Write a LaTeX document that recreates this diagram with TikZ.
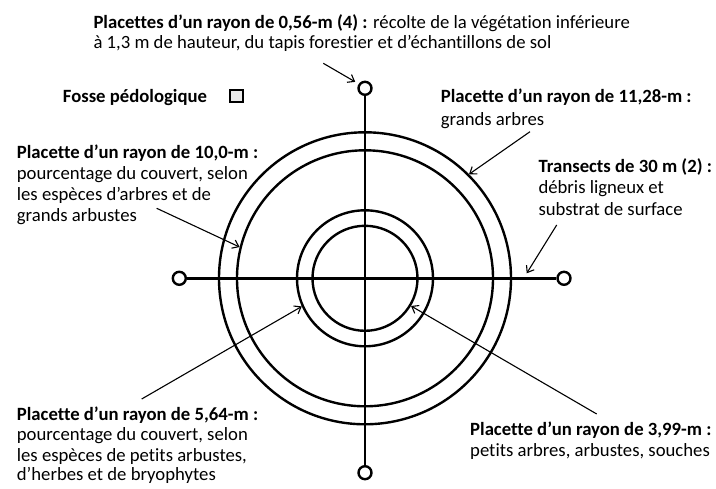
\documentclass[tikz,border=0pt]{standalone}
\usepackage{fontspec}
\setmainfont{Carlito}[Ligatures=NoCommon]
\usetikzlibrary{arrows.meta}
\begin{document}
\begin{tikzpicture}[x=1pt,y=-1pt,
  txt/.style={anchor=base west, align=left, inner sep=0pt, font=\fontsize{18.7}{#1}\selectfont},
  ring/.style={circle, draw, line width=2.4pt, inner sep=0pt},
  endc/.style={circle, draw, fill=white, line width=2.4pt, inner sep=0pt, minimum size=13pt},
  axis/.style={line width=2.8pt},
  callout/.style={line width=1.1pt, -{Straight Barb[length=6pt,width=9pt,line width=1.1pt]}},
  pit/.style={rectangle, draw, fill=black!8, line width=2.2pt, inner sep=0pt, minimum size=12.5pt}
]
\useasboundingbox (0,0) rectangle (716,489);

% centre and rings
\coordinate (c) at (365,278.3);
\node[ring, minimum size=292pt] (r1) at (c) {};
\node[ring, minimum size=256pt] (r2) at (c) {};
\node[ring, minimum size=136pt] (r3) at (c) {};
\node[ring, minimum size=105pt] (r4) at (c) {};

% end circles (0,56 m plots)
\node[endc] (ct) at (365,88.3) {};
\node[endc] (cb) at (365,472.7) {};
\node[endc] (cl) at (179.3,278.3) {};
\node[endc] (cr) at (564,278.3) {};
\draw[axis] (ct) -- (cb);
\draw[axis] (cl) -- (cr);

% soil pit
\node[pit] (pit) at (236.5,96) {};

% texts (anchor = baseline of the last line)
\node[txt=20.5] (ttop) at (93.3,49) {\textbf{Placettes d’un rayon de 0,56-m (4) :} récolte de la végétation inférieure\\à 1,3 m de hauteur, du tapis forestier et d’échantillons de sol};
\node[txt=20.5] (tfosse) at (62.7,102.5) {\textbf{Fosse pédologique}};
\node[txt=23] (t1128) at (440.7,125.2) {\textbf{Placette d’un rayon de 11,28-m :}\\grands arbres};
\node[txt=21.5] (ttr) at (538.3,215.2) {\textbf{Transects de 30 m (2) :}\\débris ligneux et\\substrat de surface};
\node[txt=21] (t100) at (16.7,221.8) {\textbf{Placette d’un rayon de 10,0-m :}\\pourcentage du couvert, selon\\les espèces d’arbres et de\\grands arbustes};
\node[txt=20] (t564) at (16.7,481) {\textbf{Placette d’un rayon de 5,64-m :}\\pourcentage du couvert, selon\\les espèces de petits arbustes,\\d’herbes et de bryophytes};
\node[txt=20.7] (t399) at (470,456.2) {\textbf{Placette d’un rayon de 3,99-m :}\\petits arbres, arbustes, souches};

% callout arrows
\coordinate (atop) at (323.3,63.3);
\coordinate (a1128) at (530,131.7);
\coordinate (atr) at (556.7,225);
\coordinate (atrtip) at (526.7,273.3);
\coordinate (a100) at (156.7,208.3);
\coordinate (a564) at (141.7,399);
\coordinate (a399) at (596.7,414);
\draw[callout, shorten >=4pt] (atop) -- (ct.145);
\draw[callout] (a1128) -- (r1.45.5);
\draw[callout] (atr) -- (atrtip);
\draw[callout] (a100) -- (r2.166);
\draw[callout] (a564) -- (r3.204);
\draw[callout] (a399) -- (r4.329);
\end{tikzpicture}
\end{document}
